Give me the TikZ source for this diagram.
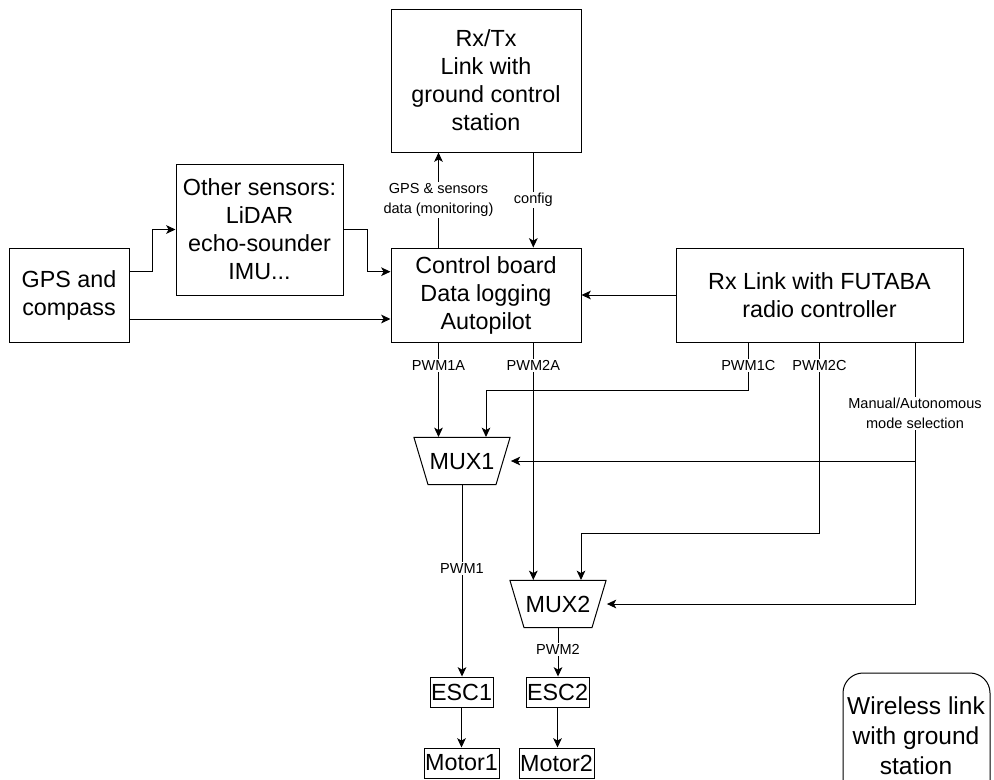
\documentclass[tikz,border=0pt]{standalone}
\usepackage{fontspec}
\setmainfont{Liberation Sans}
\usetikzlibrary{shapes.geometric,arrows.meta,calc}
\begin{document}
\begin{tikzpicture}[x=0.75pt,y=-0.75pt, line width=0.75pt,
 sz/.style 2 args={minimum width=#1*0.75pt, minimum height=#2*0.75pt},
 box/.style={draw, font=\fontsize{17.5}{21}\selectfont, align=center, inner sep=0pt},
 mux/.style={draw, trapezium, trapezium left angle=73.4, trapezium right angle=73.4,
   shape border rotate=180, text height=12.5pt, text depth=0pt,
   inner xsep=1.2pt, inner ysep=11.4pt, font=\fontsize{17.5}{21}\selectfont},
 lbl/.style={fill=white, font=\fontsize{10.9}{15}\selectfont, align=center, inner sep=1pt},
 arr/.style={-{Stealth[length=7pt,width=6.5pt,inset=1.8pt]}}]
\useasboundingbox (0,0) rectangle (994,779);

% nodes
\node[box, sz={190}{143}] (rxtx) at (486,80.5) {Rx/Tx\\Link with\\ground control\\station};
\node[box, sz={190}{94}] (ctrl) at (486,295) {Control board\\Data logging\\Autopilot};
\node[box, sz={120}{94}] (gps) at (69,295) {GPS and\\compass};
\node[box, sz={167}{131}] (other) at (259.5,229.5) {Other sensors:\\LiDAR\\echo-sounder\\IMU...};
\node[box, sz={287}{94}] (futaba) at (819.5,295) {Rx Link with FUTABA\\radio controller};
\node[mux] (mux1) at (462,461) {MUX1};
\node[mux] (mux2) at (558,604) {MUX2};
\node[box, sz={63}{30}] (esc1) at (461.5,692) {ESC1};
\node[box, sz={63}{30}] (esc2) at (557.5,692) {ESC2};
\node[box, sz={75}{30}] (mot1) at (461.5,763) {Motor1};
\node[box, sz={75}{30}] (mot2) at (556.5,763) {Motor2};

% wireless link box (cut off by the page)
\begin{scope}
\clip (0,0) rectangle (994,779);
\draw[rounded corners=15pt] (843,673) rectangle (990,830);
\end{scope}
\node[font=\fontsize{18.4}{22.5}\selectfont, align=center, inner sep=0pt] (wl) at (916,736) {Wireless link\\with ground\\station};

% helper coordinates
\coordinate (xa) at (438.5,0);
\coordinate (xc) at (533.3,0);
\coordinate (x1c) at (748.3,0);
\coordinate (xm) at (915,0);
\coordinate (ya) at (0,271.7);
\coordinate (yc) at (0,319);
\coordinate (j1) at (152.7,229.5);
\coordinate (j2) at (367.7,271.7);
\coordinate (j1c) at (486,390);
\coordinate (j2c) at (581,533);

% connectors
\draw[arr] (ctrl.north -| xa) -- node[lbl]{GPS \& sensors\\data (monitoring)} (rxtx.south -| xa);
\draw[arr] (rxtx.south -| xc) -- node[lbl]{config} (ctrl.north -| xc);
\draw[arr] (gps.east |- ya) -| (j1) -- (other.west);
\draw[arr] (other.east) -| (j2) -- (ctrl.west |- j2);
\draw[arr] (gps.east |- yc) -- (ctrl.west |- yc);
\draw[arr] (futaba.west) -- (ctrl.east);

\draw[arr] (ctrl.south -| xa) -- node[lbl,pos=0.24]{PWM1A} (mux1.north -| xa);
\draw[arr] (ctrl.south -| xc) -- node[lbl,pos=0.097]{PWM2A} (mux2.north -| xc);
\draw[arr] (futaba.south -| x1c) |- node[lbl,pos=0.24]{PWM1C} (j1c) -- (mux1.north -| j1c);
\draw[arr] (futaba.south) |- node[lbl,pos=0.06]{PWM2C} (j2c) -- (mux2.north -| j2c);
\draw[arr] (futaba.south -| xm) |- ([xshift=5.5pt]mux2.east);
\draw[arr] (futaba.south -| xm) |- node[lbl,pos=0.3]{Manual/Autonomous\\mode selection} ([xshift=5.5pt]mux1.east);

\draw[arr] (mux1.south) -- node[lbl,pos=0.435]{PWM1} (mux1.south |- esc1.north);
\draw[arr] (mux2.south) -- node[lbl,pos=0.45]{PWM2} (mux2.south |- esc2.north);
\draw[arr] (esc1.south) -- (esc1.south |- mot1.north);
\draw[arr] (esc2.south) -- (esc2.south |- mot2.north);
\end{tikzpicture}
\end{document}
